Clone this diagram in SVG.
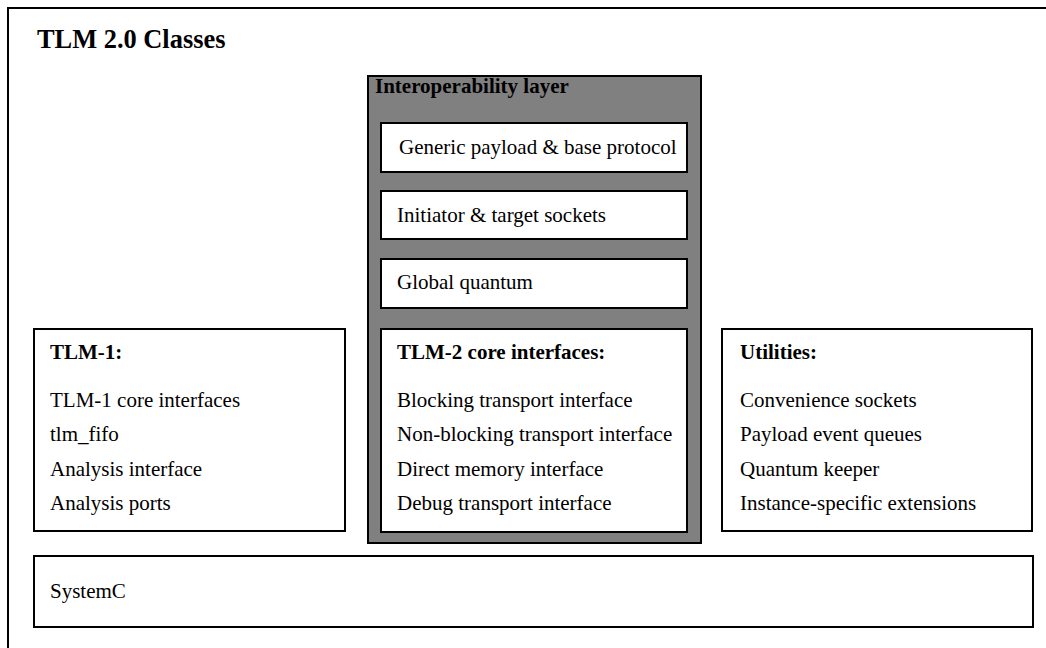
<svg xmlns="http://www.w3.org/2000/svg" width="1046" height="648" viewBox="0 0 1046 648">
<style>
text{font-family:"Liberation Serif","Times New Roman",serif;font-size:21px;fill:#000}
.b{font-weight:bold}
.box{fill:#fff;stroke:#000;stroke-width:2}
</style>
<rect x="0" y="0" width="1046" height="648" fill="#fff"/>
<g id="frame">
<rect x="8" y="8" width="1100" height="700" fill="none" stroke="#000" stroke-width="2"/>
<text x="37" y="48" class="b" style="font-size:26.4px">TLM 2.0 Classes</text>
</g>
<g id="interop">
<rect x="368" y="76" width="333" height="467" fill="#808080" stroke="#000" stroke-width="2"/>
<text x="375" y="93" class="b">Interoperability layer</text>
</g>
<g id="generic">
<rect class="box" x="381" y="123" width="306" height="49"/>
<text x="399" y="154">Generic payload &amp; base protocol</text>
</g>
<g id="sockets">
<rect class="box" x="381" y="191" width="306" height="48"/>
<text x="397" y="222">Initiator &amp; target sockets</text>
</g>
<g id="quantum">
<rect class="box" x="381" y="259" width="306" height="49"/>
<text x="397" y="289">Global quantum</text>
</g>
<g id="tlm2">
<rect class="box" x="381" y="329" width="306" height="203"/>
<text x="397" y="359" class="b">TLM-2 core interfaces:</text>
<text x="397" y="407">Blocking transport interface</text>
<text x="397" y="441">Non-blocking transport interface</text>
<text x="397" y="476">Direct memory interface</text>
<text x="397" y="510">Debug transport interface</text>
</g>
<g id="tlm1">
<rect class="box" x="34" y="329" width="311" height="202"/>
<text x="50" y="359" class="b">TLM-1:</text>
<text x="50" y="407">TLM-1 core interfaces</text>
<text x="50" y="441">tlm_fifo</text>
<text x="50" y="476">Analysis interface</text>
<text x="50" y="510">Analysis ports</text>
</g>
<g id="utilities">
<rect class="box" x="722" y="329" width="310" height="202"/>
<text x="740" y="359" class="b">Utilities:</text>
<text x="740" y="407">Convenience sockets</text>
<text x="740" y="441">Payload event queues</text>
<text x="740" y="476">Quantum keeper</text>
<text x="740" y="510">Instance-specific extensions</text>
</g>
<g id="systemc">
<rect class="box" x="34" y="556" width="999" height="71"/>
<text x="50" y="598">SystemC</text>
</g>
<g id="connectors"></g>
</svg>
